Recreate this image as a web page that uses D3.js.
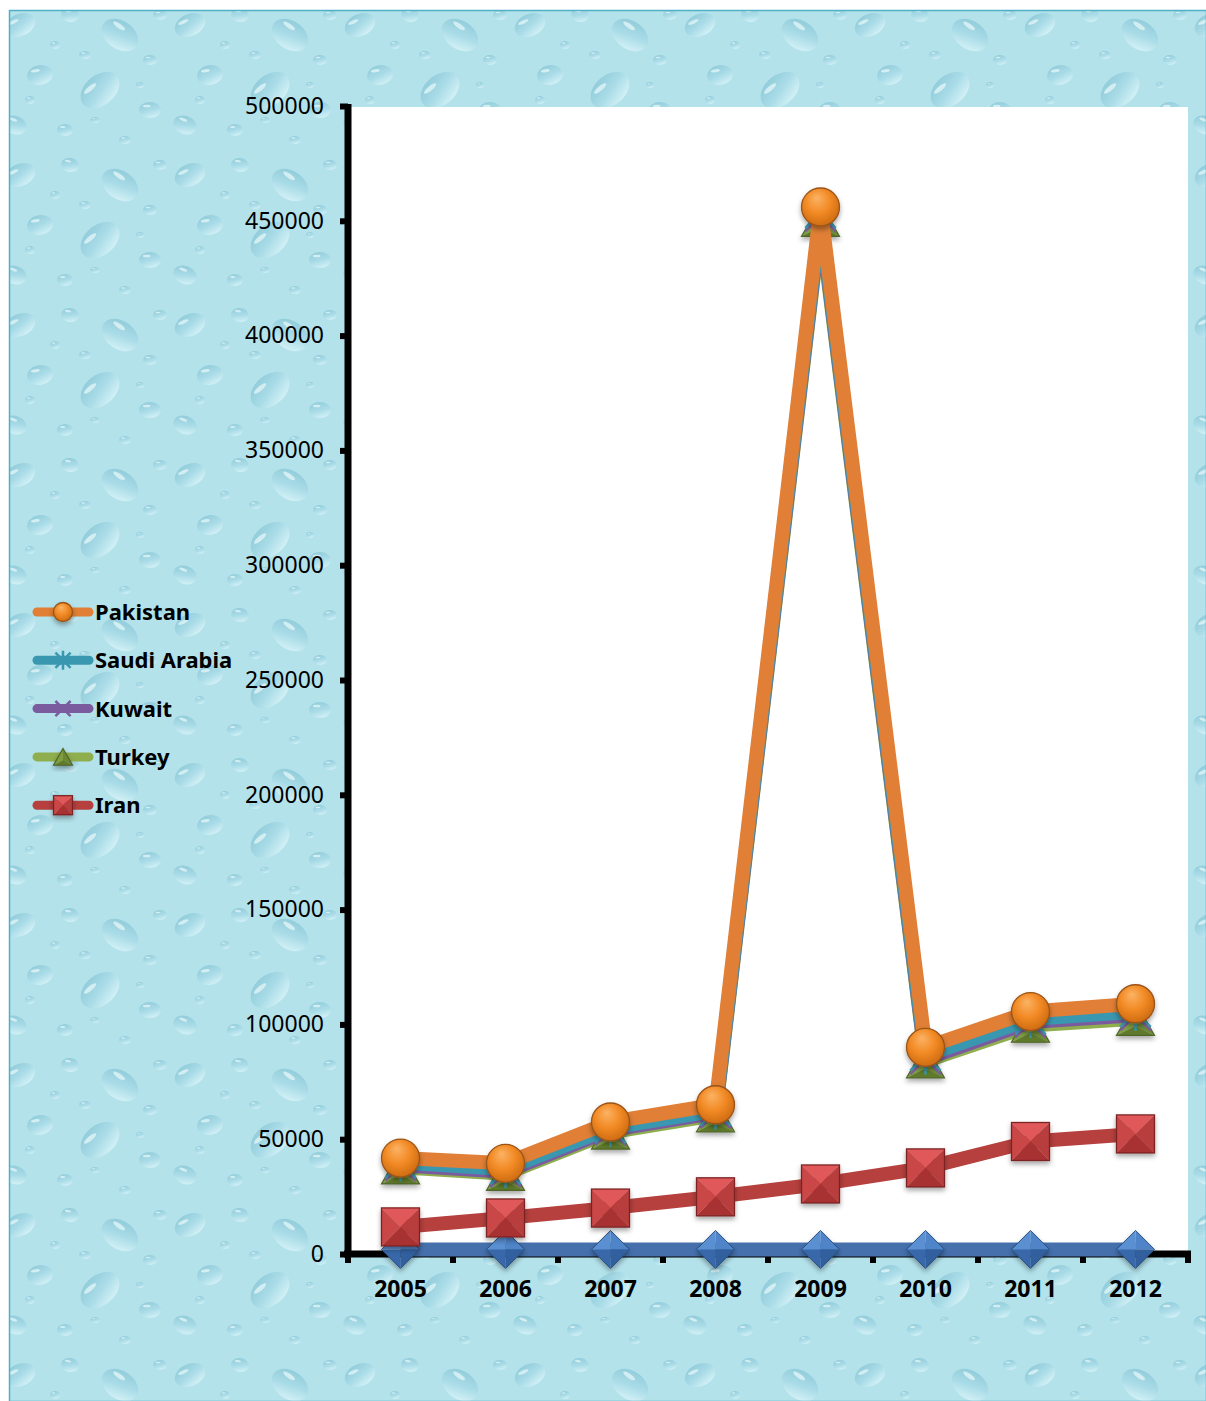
<!DOCTYPE html>
<html><head><meta charset="utf-8">
<script src="https://cdn.jsdelivr.net/npm/d3@7"></script>
<style>html,body{margin:0;padding:0;background:#fff;}svg{display:block;}</style>
</head><body>
<script>
// ---------- data ----------
const years = ["2005","2006","2007","2008","2009","2010","2011","2012"];
const pakistan    = [41800, 39500, 57500, 65000, 456000, 90000, 105600, 109000];
const saudiArabia = [39800, 37000, 55000, 62500, 453500, 86500, 102300, 105500];
const kuwait      = [38600, 35800, 54000, 61500, 452000, 85000, 101000, 104000];
const turkey      = [37800, 35000, 53000, 60500, 450500, 84000, 99500, 102500];
const iran        = [11800, 15700, 20000, 24900, 30500, 37500, 49000, 52300];
const other       = [2000, 2000, 2000, 2000, 2000, 2000, 2000, 2000];
const yTicks = [0, 50000, 100000, 150000, 200000, 250000, 300000, 350000, 400000, 450000, 500000];
const legendNames = ["Pakistan", "Saudi Arabia", "Kuwait", "Turkey", "Iran"];

// ---------- series (draw order: bottom to top) ----------
const series = [
  {name:"Other", values:other, color:"#4570ac", marker:"diamond"},
  {name:"Iran", values:iran, color:"#b5403d", marker:"square"},
  {name:"Turkey", values:turkey, color:"#8fae4d", marker:"triangle"},
  {name:"Kuwait", values:kuwait, color:"#7a5c9e", marker:"x"},
  {name:"Saudi Arabia", values:saudiArabia, color:"#3a97b0", marker:"star"},
  {name:"Pakistan", values:pakistan, color:"#e07f35", marker:"circle"}
];

const W = 1206, H = 1401;
const svg = d3.select("body").append("svg").attr("width", W).attr("height", H);
const defs = svg.append("defs");

// droplet texture pattern (decorative)
const TW = 170, TH = 150;
const pat = defs.append("pattern").attr("id","drops").attr("patternUnits","userSpaceOnUse")
  .attr("width",TW).attr("height",TH);
pat.append("rect").attr("width",TW).attr("height",TH).attr("fill","#b3e2eb");
const dg = defs.append("linearGradient").attr("id","dropg").attr("x1",0.2).attr("y1",0).attr("x2",0.6).attr("y2",1);
dg.append("stop").attr("offset","0%").attr("stop-color","#84c3d3");
dg.append("stop").attr("offset","55%").attr("stop-color","#a6dae6");
dg.append("stop").attr("offset","100%").attr("stop-color","#dcf5f9");
const drops = [[20,25,16,11,-25],[70,15,9,7,10],[120,35,20,14,35],[40,75,13,10,-10],[100,90,22,15,-40],
  [150,110,11,8,0],[15,125,12,9,20],[65,130,8,6,0],[150,60,7,5,0],[85,55,6,4,0],[55,45,5,4,0],[160,15,7,5,0],
  [125,140,6,4,0],[30,100,5,4,0],[95,120,5,3,0],[140,85,4,3,0]];
drops.forEach(d=>{
  [[0,0],[TW,0],[-TW,0],[0,TH],[0,-TH]].forEach(o=>{
    const g = pat.append("g").attr("transform",`translate(${d[0]+o[0]},${d[1]+o[1]}) rotate(${d[4]})`);
    g.append("ellipse").attr("rx",d[2]).attr("ry",d[3]).attr("fill","url(#dropg)").attr("opacity",0.75);
    g.append("ellipse").attr("cx",-d[2]*0.3).attr("cy",-d[3]*0.5).attr("rx",d[2]*0.35).attr("ry",d[3]*0.16)
     .attr("fill","#eafafc").attr("opacity",0.7);
  });
});

// background
svg.append("rect").attr("x",9.5).attr("y",10.5).attr("width",W-9).attr("height",H-10)
  .attr("fill","url(#drops)").attr("stroke","#4fb0c6").attr("stroke-width",1.5);

// shadow filter
const f = defs.append("filter").attr("id","sh").attr("x","-30%").attr("y","-30%").attr("width","160%").attr("height","170%");
f.append("feDropShadow").attr("dx",0).attr("dy",3).attr("stdDeviation",2.5).attr("flood-color","#000").attr("flood-opacity",0.35);

// circle gradient
const cg = defs.append("radialGradient").attr("id","circG").attr("cx","45%").attr("cy","40%").attr("r","60%").attr("fx","40%").attr("fy","25%");
cg.append("stop").attr("offset","0%").attr("stop-color","#fbb365");
cg.append("stop").attr("offset","55%").attr("stop-color","#f28a25");
cg.append("stop").attr("offset","100%").attr("stop-color","#cf6c12");

// scales
const pLeft = 348, pRight = 1188, pTop = 106, pBottom = 1254;
const x = d3.scaleBand().domain(years).range([pLeft, pRight]).paddingInner(0).paddingOuter(0);
const y = d3.scaleLinear().domain([0, 500000]).range([pBottom, pTop]);
const cx = d => x(d) + x.bandwidth()/2;

// plot area
svg.append("rect").attr("x",pLeft).attr("y",pTop+1).attr("width",pRight-pLeft).attr("height",pBottom-pTop-1).attr("fill","#fff");

// axes
const yAxis = d3.axisLeft(y).tickValues(yTicks).tickSize(8).tickPadding(16).tickFormat(d3.format("d"));
const gy = svg.append("g").attr("transform",`translate(${pLeft},0)`).call(yAxis);
gy.select(".domain").attr("stroke","#000").attr("stroke-width",7).attr("d",`M0,${pTop-2}V${pBottom+3}`);
gy.selectAll(".tick line").attr("stroke","#000").attr("stroke-width",6);
gy.selectAll(".tick text").attr("font-family","'Noto Sans', sans-serif").attr("font-size",23).attr("fill","#000");

const xAxis = d3.axisBottom(x).tickSize(0).tickPadding(27);
const gx = svg.append("g").attr("transform",`translate(0,${pBottom})`).call(xAxis);
gx.select(".domain").attr("stroke","#000").attr("stroke-width",7).attr("d",`M${pLeft-4},0H${pRight+3}`);
gx.selectAll(".tick text").attr("font-family","'Noto Sans', sans-serif").attr("font-size",23).attr("font-weight","bold").attr("fill","#000");
// x tick marks at band boundaries
svg.append("g").selectAll("line").data(years.concat(["end"])).join("line")
  .attr("x1",(d,i)=> i < years.length ? x(d) : pRight).attr("x2",(d,i)=> i < years.length ? x(d) : pRight)
  .attr("y1",pBottom).attr("y2",pBottom+9).attr("stroke","#000").attr("stroke-width",6);

// marker drawing
function drawMarker(g, type, s, color) {
  const h = s/2;
  if (type === "circle") {
    g.append("circle").attr("r",h).attr("fill","url(#circG)").attr("stroke","#9a5418").attr("stroke-width",1.3);
  } else if (type === "square") {
    const faces = [
      [[-h,-h],[h,-h],[0,0],"#e0595a"],
      [[h,-h],[h,h],[0,0],"#b83c3c"],
      [[h,h],[-h,h],[0,0],"#a83233"],
      [[-h,h],[-h,-h],[0,0],"#c94646"]
    ];
    faces.forEach(fc=>g.append("path").attr("d",`M${fc[0]}L${fc[1]}L${fc[2]}Z`).attr("fill",fc[3]));
    g.append("rect").attr("x",-h).attr("y",-h).attr("width",s).attr("height",s).attr("fill","none").attr("stroke","#7d2424").attr("stroke-width",1.3);
  } else if (type === "diamond") {
    const faces = [
      [[0,-h],[h,0],[0,0],"#4f84c8"],
      [[h,0],[0,h],[0,0],"#30609e"],
      [[0,h],[-h,0],[0,0],"#3868aa"],
      [[-h,0],[0,-h],[0,0],"#5a90d2"]
    ];
    faces.forEach(fc=>g.append("path").attr("d",`M${fc[0]}L${fc[1]}L${fc[2]}Z`).attr("fill",fc[3]));
    g.append("path").attr("d",`M0,${-h}L${h},0L0,${h}L${-h},0Z`).attr("fill","none").attr("stroke","#2a5080").attr("stroke-width",1);
  } else if (type === "triangle") {
    const th = s*0.88;
    g.append("path").attr("d",`M0,${-th/2}L${h},${th/2}L0,${th/2-th*0.28}Z`).attr("fill","#6c8834");
    g.append("path").attr("d",`M0,${-th/2}L${-h},${th/2}L0,${th/2-th*0.28}Z`).attr("fill","#7f9e42");
    g.append("path").attr("d",`M${-h},${th/2}L${h},${th/2}L0,${th/2-th*0.28}Z`).attr("fill","#5e7a2c");
    g.append("path").attr("d",`M0,${-th/2}L${h},${th/2}L${-h},${th/2}Z`).attr("fill","none").attr("stroke","#4f6628").attr("stroke-width",1.2);
  } else if (type === "x") {
    const a = h*0.8;
    g.append("path").attr("d",`M${-a},${-a}L${a},${a}M${a},${-a}L${-a},${a}`).attr("stroke",color).attr("stroke-width",2.5);
  } else if (type === "star") {
    const a = h*0.8;
    g.append("path").attr("d",`M${-a},${-a}L${a},${a}M${a},${-a}L${-a},${a}M0,${-h}V${h}`).attr("stroke",color).attr("stroke-width",2.5);
  }
}

const line = d3.line().x((d,i)=>cx(years[i])).y(d=>y(d));
const plot = svg.append("g");
series.forEach(sr=>{
  const g = plot.append("g");
  g.append("path").datum(sr.values).attr("d",line).attr("fill","none").attr("stroke",sr.color)
    .attr("stroke-width",14).attr("stroke-linejoin","round");
  sr.values.forEach((v,i)=>{
    const mg = g.append("g").attr("transform",`translate(${cx(years[i])},${y(v)})`);
    if (sr.marker !== "x" && sr.marker !== "star") mg.attr("filter","url(#sh)");
    drawMarker(mg, sr.marker, 38, sr.color);
  });
});

// legend
const lg = svg.append("g");
const legendSeries = legendNames.map(n=>series.find(s=>s.name===n));
legendSeries.forEach((sr,i)=>{
  const yy = 612 + i*48.3;
  lg.append("line").attr("x1",37).attr("x2",89).attr("y1",yy).attr("y2",yy).attr("stroke",sr.color)
    .attr("stroke-width",9).attr("stroke-linecap","round");
  const mg = lg.append("g").attr("transform",`translate(63,${yy})`);
  if (sr.marker !== "x" && sr.marker !== "star") mg.attr("filter","url(#sh)");
  drawMarker(mg, sr.marker, 19, sr.color);
  lg.append("text").attr("x",95).attr("y",yy).attr("dy","0.36em").text(sr.name)
    .attr("font-family","'Noto Sans', sans-serif").attr("font-size",22).attr("font-weight","bold").attr("fill","#000");
});
</script>
</body></html>
